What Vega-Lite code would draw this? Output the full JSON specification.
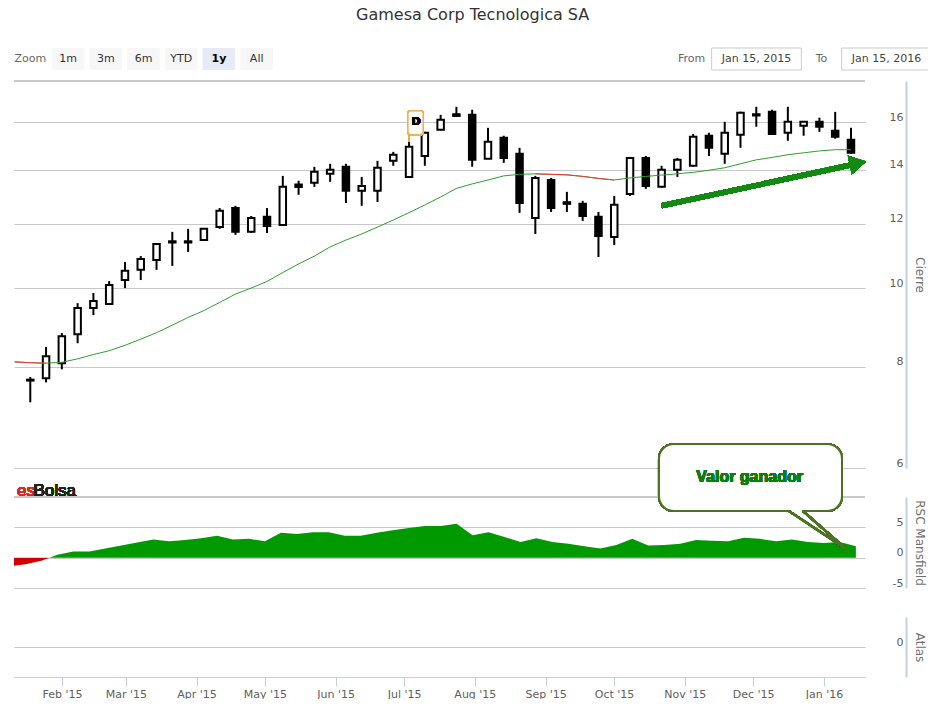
{
  "$schema": "https://vega.github.io/schema/vega-lite/v6.json",
  "padding": {"left": 13, "top": 6, "right": 0, "bottom": 0},
  "title": {"text": "Gamesa Corp Tecnologica SA", "fontSize": 16, "fontWeight": "normal", "color": "#333333", "anchor": "middle", "offset": 25},
  "datasets": {
    "weeks": [
      {"date": "2015-01-09", "ma": 8.11, "rsc": -1.4},
      {"date": "2015-01-16", "open": 7.69, "high": 7.77, "low": 7.23, "close": 7.71, "ma": 8.09, "rsc": -1.1},
      {"date": "2015-01-23", "open": 7.74, "high": 8.46, "low": 7.65, "close": 8.24, "ma": 8.08, "rsc": -0.5},
      {"date": "2015-01-30", "open": 8.08, "high": 8.80, "low": 7.94, "close": 8.72, "ma": 8.10, "rsc": 0.5},
      {"date": "2015-02-06", "open": 8.77, "high": 9.58, "low": 8.55, "close": 9.45, "ma": 8.18, "rsc": 1.0},
      {"date": "2015-02-13", "open": 9.45, "high": 9.86, "low": 9.26, "close": 9.64, "ma": 8.28, "rsc": 1.0},
      {"date": "2015-02-20", "open": 9.56, "high": 10.20, "low": 9.55, "close": 10.09, "ma": 8.37, "rsc": 1.5},
      {"date": "2015-02-27", "open": 10.23, "high": 10.77, "low": 10.00, "close": 10.50, "ma": 8.50, "rsc": 2.0},
      {"date": "2015-03-06", "open": 10.53, "high": 10.95, "low": 10.23, "close": 10.86, "ma": 8.65, "rsc": 2.5},
      {"date": "2015-03-13", "open": 10.83, "high": 11.36, "low": 10.53, "close": 11.33, "ma": 8.81, "rsc": 3.0},
      {"date": "2015-03-20", "open": 11.42, "high": 11.73, "low": 10.65, "close": 11.38, "ma": 9.00, "rsc": 2.7},
      {"date": "2015-03-27", "open": 11.38, "high": 11.83, "low": 11.08, "close": 11.42, "ma": 9.20, "rsc": 2.9},
      {"date": "2015-04-03", "open": 11.46, "high": 11.85, "low": 11.45, "close": 11.83, "ma": 9.38, "rsc": 3.2},
      {"date": "2015-04-10", "open": 11.89, "high": 12.55, "low": 11.83, "close": 12.45, "ma": 9.60, "rsc": 3.6},
      {"date": "2015-04-17", "open": 12.55, "high": 12.63, "low": 11.63, "close": 11.73, "ma": 9.83, "rsc": 3.0},
      {"date": "2015-04-24", "open": 11.73, "high": 12.27, "low": 11.70, "close": 12.20, "ma": 10.00, "rsc": 3.1},
      {"date": "2015-05-01", "open": 12.24, "high": 12.55, "low": 11.69, "close": 11.93, "ma": 10.19, "rsc": 2.7},
      {"date": "2015-05-08", "open": 11.96, "high": 13.75, "low": 11.93, "close": 13.33, "ma": 10.45, "rsc": 4.1},
      {"date": "2015-05-15", "open": 13.42, "high": 13.56, "low": 13.03, "close": 13.32, "ma": 10.71, "rsc": 3.9},
      {"date": "2015-05-22", "open": 13.48, "high": 14.11, "low": 13.33, "close": 13.91, "ma": 10.95, "rsc": 4.2},
      {"date": "2015-05-29", "open": 13.83, "high": 14.23, "low": 13.52, "close": 13.99, "ma": 11.24, "rsc": 4.2},
      {"date": "2015-06-05", "open": 14.11, "high": 14.23, "low": 12.73, "close": 13.18, "ma": 11.46, "rsc": 3.6},
      {"date": "2015-06-12", "open": 13.18, "high": 13.71, "low": 12.63, "close": 13.36, "ma": 11.66, "rsc": 3.6},
      {"date": "2015-06-19", "open": 13.18, "high": 14.35, "low": 12.77, "close": 14.07, "ma": 11.89, "rsc": 4.1},
      {"date": "2015-06-26", "open": 14.35, "high": 14.72, "low": 14.15, "close": 14.60, "ma": 12.13, "rsc": 4.5},
      {"date": "2015-07-03", "open": 13.71, "high": 15.15, "low": 13.70, "close": 14.93, "ma": 12.39, "rsc": 4.9},
      {"date": "2015-07-10", "open": 14.55, "high": 15.58, "low": 14.15, "close": 15.54, "ma": 12.66, "rsc": 5.2},
      {"date": "2015-07-17", "open": 15.67, "high": 16.35, "low": 15.65, "close": 16.12, "ma": 12.95, "rsc": 5.2},
      {"date": "2015-07-24", "open": 16.38, "high": 16.73, "low": 16.26, "close": 16.30, "ma": 13.27, "rsc": 5.6},
      {"date": "2015-07-31", "open": 16.35, "high": 16.59, "low": 14.11, "close": 14.39, "ma": 13.44, "rsc": 3.7},
      {"date": "2015-08-07", "open": 14.43, "high": 15.76, "low": 14.42, "close": 15.15, "ma": 13.59, "rsc": 4.2},
      {"date": "2015-08-14", "open": 15.32, "high": 15.41, "low": 14.27, "close": 14.47, "ma": 13.75, "rsc": 3.4},
      {"date": "2015-08-21", "open": 14.64, "high": 14.89, "low": 12.38, "close": 12.73, "ma": 13.81, "rsc": 2.6},
      {"date": "2015-08-28", "open": 12.20, "high": 13.75, "low": 11.66, "close": 13.67, "ma": 13.83, "rsc": 3.2},
      {"date": "2015-09-04", "open": 13.59, "high": 13.67, "low": 12.41, "close": 12.55, "ma": 13.81, "rsc": 2.6},
      {"date": "2015-09-11", "open": 12.76, "high": 13.14, "low": 12.41, "close": 12.70, "ma": 13.79, "rsc": 2.3},
      {"date": "2015-09-18", "open": 12.70, "high": 12.81, "low": 12.10, "close": 12.27, "ma": 13.73, "rsc": 1.9},
      {"date": "2015-09-25", "open": 12.24, "high": 12.41, "low": 10.92, "close": 11.59, "ma": 13.65, "rsc": 1.5},
      {"date": "2015-10-02", "open": 11.56, "high": 12.99, "low": 11.30, "close": 12.67, "ma": 13.59, "rsc": 2.1},
      {"date": "2015-10-09", "open": 13.06, "high": 14.51, "low": 12.99, "close": 14.47, "ma": 13.67, "rsc": 3.1},
      {"date": "2015-10-16", "open": 14.47, "high": 14.55, "low": 13.25, "close": 13.36, "ma": 13.73, "rsc": 2.0},
      {"date": "2015-10-23", "open": 13.33, "high": 14.15, "low": 13.30, "close": 13.99, "ma": 13.78, "rsc": 2.1},
      {"date": "2015-10-30", "open": 13.99, "high": 14.47, "low": 13.71, "close": 14.39, "ma": 13.83, "rsc": 2.3},
      {"date": "2015-11-06", "open": 14.15, "high": 15.49, "low": 14.11, "close": 15.36, "ma": 13.89, "rsc": 2.9},
      {"date": "2015-11-13", "open": 15.41, "high": 15.54, "low": 14.55, "close": 14.89, "ma": 13.97, "rsc": 2.8},
      {"date": "2015-11-20", "open": 14.64, "high": 16.03, "low": 14.23, "close": 15.54, "ma": 14.07, "rsc": 2.7},
      {"date": "2015-11-27", "open": 15.45, "high": 16.50, "low": 14.89, "close": 16.45, "ma": 14.23, "rsc": 3.3},
      {"date": "2015-12-04", "open": 16.38, "high": 16.73, "low": 15.81, "close": 16.32, "ma": 14.39, "rsc": 3.1},
      {"date": "2015-12-11", "open": 16.49, "high": 16.59, "low": 15.45, "close": 15.49, "ma": 14.49, "rsc": 2.7},
      {"date": "2015-12-18", "open": 15.54, "high": 16.73, "low": 15.19, "close": 16.03, "ma": 14.60, "rsc": 3.0},
      {"date": "2015-12-25", "open": 15.85, "high": 16.06, "low": 15.41, "close": 16.03, "ma": 14.68, "rsc": 2.6},
      {"date": "2016-01-01", "open": 16.03, "high": 16.22, "low": 15.58, "close": 15.81, "ma": 14.76, "rsc": 2.4},
      {"date": "2016-01-08", "open": 15.63, "high": 16.49, "low": 15.28, "close": 15.36, "ma": 14.81, "rsc": 2.6},
      {"date": "2016-01-15", "open": 15.23, "high": 15.76, "low": 14.64, "close": 14.68, "ma": 14.81, "rsc": 1.9}
    ],
    "buttons": [
      {"label": "Zoom"}, {"label": "1m"}, {"label": "3m"}, {"label": "6m"},
      {"label": "YTD"}, {"label": "1y"}, {"label": "All"}
    ],
    "range": [
      {"label": "From"}, {"label": "Jan 15, 2015"}, {"label": "To"}, {"label": "Jan 15, 2016"}
    ]
  },
  "spacing": 9,
  "resolve": {"scale": {"x": "independent", "y": "independent"}},
  "vconcat": [
    {
      "bounds": "flush",
      "spacing": 386,
      "resolve": {"scale": {"x": "independent"}},
      "hconcat": [
        {
          "width": 259,
          "height": 22,
          "data": {"name": "buttons"},
          "layer": [
            {
              "mark": {"type": "bar"},
              "encoding": {
                "x": {"field": "label", "type": "nominal", "scale": {"domain": ["Zoom", "1m", "3m", "6m", "YTD", "1y", "All"], "paddingInner": 0.135, "paddingOuter": 0}, "axis": null},
                "color": {"condition": [{"test": "datum.label == 'Zoom'", "value": "#ffffff"}, {"test": "datum.label == '1y'", "value": "#e6ebf5"}], "value": "#f7f7f7"}
              }
            },
            {
              "transform": [{"filter": "datum.label != '1y'"}],
              "mark": {"type": "text", "fontSize": 11},
              "encoding": {
                "x": {"field": "label", "type": "nominal"},
                "text": {"field": "label"},
                "color": {"condition": {"test": "datum.label == 'Zoom'", "value": "#666666"}, "value": "#333333"}
              }
            },
            {
              "transform": [{"filter": "datum.label == '1y'"}],
              "mark": {"type": "text", "fontSize": 11, "fontWeight": "bold", "color": "#000000"},
              "encoding": {
                "x": {"field": "label", "type": "nominal"},
                "text": {"field": "label"}
              }
            }
          ]
        },
        {
          "width": 260,
          "height": 22,
          "data": {"name": "range"},
          "layer": [
            {
              "transform": [{"filter": "datum.label != 'From' && datum.label != 'To'"}],
              "mark": {"type": "bar", "width": {"band": 1.38}, "fill": "#ffffff", "stroke": "#cccccc", "strokeWidth": 1},
              "encoding": {
                "x": {"field": "label", "type": "nominal", "scale": {"domain": ["From", "Jan 15, 2015", "To", "Jan 15, 2016"], "paddingInner": 0, "paddingOuter": 0}, "axis": null}
              }
            },
            {
              "mark": {"type": "text", "fontSize": 11},
              "encoding": {
                "x": {"field": "label", "type": "nominal"},
                "text": {"field": "label"},
                "color": {"condition": {"test": "datum.label == 'From' || datum.label == 'To'", "value": "#666666"}, "value": "#444444"}
              }
            }
          ]
        }
      ]
    },
    {
      "bounds": "flush",
      "spacing": 29,
      "resolve": {"scale": {"x": "independent", "y": "independent"}},
      "vconcat": [
        {
          "width": 851,
          "height": 387,
          "data": {"name": "weeks"},
          "layer": [
            {
              "mark": {"type": "rule", "color": "#000000", "strokeWidth": 2, "clip": true},
              "encoding": {
                "x": {"field": "date", "type": "temporal", "scale": {"type": "utc", "nice": false, "domain": [{"year": 2015, "month": 1, "date": 11, "utc": true}, {"year": 2016, "month": 1, "date": 19, "utc": true}]}, "axis": null},
                "y": {
                  "field": "low", "type": "quantitative",
                  "scale": {"type": "log", "domain": [6, 18], "nice": false},
                  "axis": {
                    "orient": "right", "offset": 41, "values": [6, 8, 10, 12, 14, 16],
                    "grid": true, "gridColor": "#c8c8c8", "ticks": false, "tickSize": 0,
                    "domainColor": "#c0d0e0", "domainWidth": 2,
                    "labelAlign": "right", "labelBaseline": "alphabetic", "labelPadding": -3, "labelOffset": -2,
                    "labelColor": "#606060", "labelFontSize": 11, "labelOverlap": false,
                    "title": "Cierre", "titleColor": "#707070", "titleFontSize": 12, "titleFontWeight": "normal", "titlePadding": 6
                  }
                },
                "y2": {"field": "high"}
              }
            },
            {
              "mark": {"type": "rule", "color": "#c8c8c8", "strokeWidth": 1},
              "encoding": {
                "y": {"datum": 18, "type": "quantitative"}
              }
            },
            {
              "mark": {"type": "bar", "width": 6.5, "stroke": "#000000", "strokeWidth": 2, "clip": true},
              "encoding": {
                "x": {"field": "date", "type": "temporal"},
                "y": {"field": "open", "type": "quantitative"},
                "y2": {"field": "close"},
                "fill": {"condition": {"test": "datum.close < datum.open", "value": "#000000"}, "value": "#ffffff"}
              }
            },
            {
              "mark": {"type": "line", "color": "#2f9e2f", "strokeWidth": 1, "clip": true},
              "encoding": {
                "x": {"field": "date", "type": "temporal"},
                "y": {"field": "ma", "type": "quantitative"}
              }
            },
            {
              "transform": [{"filter": "datum.date <= utc(2015,0,23)"}],
              "mark": {"type": "line", "color": "#f03a3a", "strokeWidth": 1, "clip": true},
              "encoding": {
                "x": {"field": "date", "type": "temporal"},
                "y": {"field": "ma", "type": "quantitative"}
              }
            },
            {
              "transform": [{"filter": "datum.date >= utc(2015,7,28) && datum.date <= utc(2015,9,2)"}],
              "mark": {"type": "line", "color": "#f03a3a", "strokeWidth": 1, "clip": true},
              "encoding": {
                "x": {"field": "date", "type": "temporal"},
                "y": {"field": "ma", "type": "quantitative"}
              }
            },
            {
              "mark": {"type": "rule", "color": "#128a12", "strokeWidth": 5, "clip": false},
              "encoding": {
                "x": {"datum": {"year": 2015, "month": 10, "date": 23, "utc": true}, "type": "temporal"},
                "y": {"datum": 12.63, "type": "quantitative"},
                "x2": {"datum": {"year": 2016, "month": 1, "date": 16, "hours": 10, "utc": true}},
                "y2": {"datum": 14.21}
              }
            },
            {
              "mark": {"type": "point", "shape": "triangle-right", "filled": true, "color": "#128a12", "opacity": 1, "size": 361, "angle": 348, "clip": false},
              "encoding": {
                "x": {"datum": {"year": 2016, "month": 1, "date": 18, "hours": 2, "utc": true}, "type": "temporal"},
                "y": {"datum": 14.25, "type": "quantitative"}
              }
            },
            {
              "mark": {"type": "rule", "color": "#f2a93b", "strokeWidth": 1.5},
              "encoding": {
                "x": {"datum": {"year": 2015, "month": 7, "date": 3, "utc": true}, "type": "temporal"},
                "y": {"datum": 15.15, "type": "quantitative"},
                "y2": {"datum": 15.45}
              }
            },
            {
              "mark": {"type": "rect", "fill": "#ffffff", "stroke": "#f2b04e", "strokeWidth": 1.5, "cornerRadius": 3},
              "encoding": {
                "x": {"datum": {"year": 2015, "month": 7, "date": 2, "hours": 12, "utc": true}, "type": "temporal"},
                "x2": {"datum": {"year": 2015, "month": 7, "date": 9, "hours": 6, "utc": true}},
                "y": {"datum": 16.54, "type": "quantitative"},
                "y2": {"datum": 15.45}
              }
            },
            {
              "mark": {"type": "text", "text": "D", "fontSize": 11, "fontWeight": "bold", "color": "#000000"},
              "encoding": {
                "x": {"datum": {"year": 2015, "month": 7, "date": 6, "hours": 3, "utc": true}, "type": "temporal"},
                "y": {"datum": 16.0, "type": "quantitative"}
              }
            }
          ]
        },
        {
          "width": 851,
          "height": 91,
          "data": {"name": "weeks"},
          "layer": [
            {
              "mark": {
                "type": "area", "clip": true,
                "color": {"gradient": "linear", "x1": 0, "y1": 0, "x2": 0, "y2": 1, "stops": [
                  {"offset": 0, "color": "#009a00"}, {"offset": 0.8, "color": "#009a00"},
                  {"offset": 0.8, "color": "#d00000"}, {"offset": 1, "color": "#d00000"}
                ]}
              },
              "encoding": {
                "x": {"field": "date", "type": "temporal", "scale": {"type": "utc", "nice": false, "domain": [{"year": 2015, "month": 1, "date": 11, "utc": true}, {"year": 2016, "month": 1, "date": 19, "utc": true}]}, "axis": null},
                "y": {
                  "field": "rsc", "type": "quantitative",
                  "scale": {"domain": [-5, 10], "nice": false},
                  "axis": {
                    "orient": "right", "offset": 41, "values": [-5, 0, 5],
                    "labelExpr": "'' + datum.value",
                    "grid": true, "gridColor": "#c8c8c8", "ticks": false, "tickSize": 0,
                    "domainColor": "#c0d0e0", "domainWidth": 2,
                    "labelAlign": "right", "labelBaseline": "alphabetic", "labelPadding": -3, "labelOffset": -2,
                    "labelColor": "#606060", "labelFontSize": 11, "labelOverlap": false,
                    "title": "RSC Mansfield", "titleColor": "#707070", "titleFontSize": 12, "titleFontWeight": "normal", "titlePadding": 6
                  }
                }
              }
            },
            {
              "mark": {"type": "rule", "color": "#c8c8c8", "strokeWidth": 1},
              "encoding": {
                "y": {"datum": 10, "type": "quantitative"}
              }
            },
            {
              "mark": {"type": "rect", "fill": "#ffffff", "stroke": "#4c7321", "strokeWidth": 2, "cornerRadius": 15, "clip": false},
              "encoding": {
                "x": {"datum": {"year": 2015, "month": 10, "date": 20, "hours": 17, "utc": true}, "type": "temporal"},
                "x2": {"datum": {"year": 2016, "month": 1, "date": 8, "hours": 22, "utc": true}},
                "y": {"datum": 18.74, "type": "quantitative"},
                "y2": {"datum": 7.69}
              }
            },
            {
              "mark": {"type": "rule", "color": "#ffffff", "strokeWidth": 3, "clip": false},
              "encoding": {
                "x": {"datum": {"year": 2015, "month": 12, "date": 17, "hours": 6, "utc": true}, "type": "temporal"},
                "x2": {"datum": {"year": 2015, "month": 12, "date": 22, "hours": 6, "utc": true}},
                "y": {"datum": 7.69, "type": "quantitative"}
              }
            },
            {
              "mark": {"type": "rule", "color": "#4c7321", "strokeWidth": 2, "clip": false},
              "encoding": {
                "x": {"datum": {"year": 2015, "month": 12, "date": 16, "hours": 16, "utc": true}, "type": "temporal"},
                "y": {"datum": 7.69, "type": "quantitative"},
                "x2": {"datum": {"year": 2016, "month": 1, "date": 10, "hours": 17, "utc": true}},
                "y2": {"datum": 1.43}
              }
            },
            {
              "mark": {"type": "rule", "color": "#4c7321", "strokeWidth": 2, "clip": false},
              "encoding": {
                "x": {"datum": {"year": 2015, "month": 12, "date": 22, "hours": 19, "utc": true}, "type": "temporal"},
                "y": {"datum": 7.69, "type": "quantitative"},
                "x2": {"datum": {"year": 2016, "month": 1, "date": 10, "hours": 17, "utc": true}},
                "y2": {"datum": 1.43}
              }
            },
            {
              "mark": {"type": "text", "text": "Valor ganador", "font": "Liberation Sans", "fontSize": 16, "fontWeight": "bold", "color": "#0b7f0b", "clip": false},
              "encoding": {
                "x": {"datum": {"year": 2015, "month": 11, "date": 29, "hours": 10, "utc": true}, "type": "temporal"},
                "y": {"datum": 13.3, "type": "quantitative"}
              }
            },
            {
              "mark": {"type": "text", "text": "es", "font": "Liberation Sans", "fontSize": 17, "fontWeight": "normal", "align": "left", "baseline": "alphabetic", "color": "#d42a2a", "clip": false},
              "encoding": {
                "x": {"datum": {"year": 2015, "month": 1, "date": 12, "hours": 8, "utc": true}, "type": "temporal"},
                "y": {"datum": 10.2, "type": "quantitative"}
              }
            },
            {
              "mark": {"type": "text", "text": "Bolsa", "font": "Liberation Sans", "fontSize": 17, "fontWeight": "normal", "align": "left", "baseline": "alphabetic", "color": "#222222", "clip": false},
              "encoding": {
                "x": {"datum": {"year": 2015, "month": 1, "date": 19, "hours": 13, "utc": true}, "type": "temporal"},
                "y": {"datum": 10.2, "type": "quantitative"}
              }
            }
          ]
        },
        {
          "width": 851,
          "height": 60,
          "data": {"name": "weeks"},
          "transform": [{"filter": "isValid(datum.open)"}],
          "mark": {"type": "point", "opacity": 0, "clip": true},
          "encoding": {
            "x": {
              "field": "date", "type": "temporal",
              "scale": {"type": "utc", "nice": false, "domain": [{"year": 2015, "month": 1, "date": 11, "utc": true}, {"year": 2016, "month": 1, "date": 19, "utc": true}]},
              "axis": {
                "orient": "bottom", "format": "%b '%y", "tickCount": {"interval": "month", "step": 1},
                "grid": false, "domainColor": "#c0d0e0", "tickColor": "#c0d0e0", "tickSize": 9, "labelPadding": 2,
                "labelColor": "#606060", "labelFontSize": 11, "labelFlush": false, "labelOverlap": false, "title": null
              }
            },
            "y": {
              "datum": 0, "type": "quantitative",
              "scale": {"domain": [-1, 1], "nice": false},
              "axis": {
                "orient": "right", "offset": 41, "values": [0],
                "labelExpr": "'' + datum.value",
                "grid": true, "gridColor": "#c8c8c8", "ticks": false, "tickSize": 0,
                "domainColor": "#c0d0e0", "domainWidth": 2,
                "labelAlign": "right", "labelBaseline": "alphabetic", "labelPadding": -3, "labelOffset": -2,
                "labelColor": "#606060", "labelFontSize": 11,
                "title": "Atlas", "titleColor": "#707070", "titleFontSize": 12, "titleFontWeight": "normal", "titlePadding": 6
              }
            }
          }
        }
      ]
    }
  ],
  "config": {
    "font": "DejaVu Sans",
    "view": {"stroke": null}
  }
}
